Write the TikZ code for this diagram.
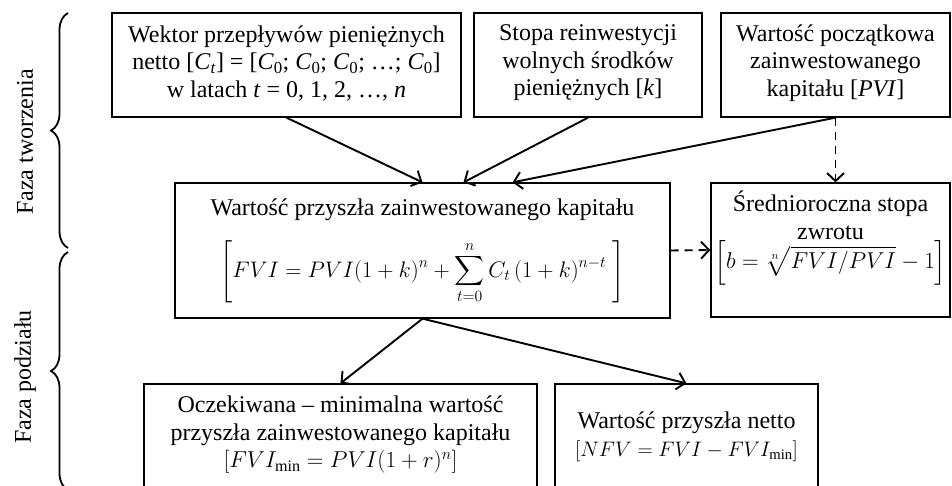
\documentclass[tikz,border=0pt]{standalone}
\usepackage{fix-cm}
\usepackage{amsmath}
\usepackage{fontspec}
\setmainfont{Liberation Serif}
\usetikzlibrary{arrows.meta,decorations.pathreplacing,calc}
\newcommand{\Ci}[1]{\textit{C}\textsubscript{#1}}
\newcommand{\mathsz}[1]{\fontsize{#1}{27.5}\selectfont}
\begin{document}
\begin{tikzpicture}[x=1pt,y=1pt,
  box/.style={draw, line width=1.3pt, inner sep=0pt},
  txt/.style={align=center, font=\fontsize{24}{27.5}\selectfont, inner sep=0pt},
  arr/.style={line width=1.9pt, -{Straight Barb[length=8pt,width=17pt,line width=1.9pt]}},
  darr/.style={arr, dash pattern=on 8pt off 6pt},
  brc/.style={decorate, decoration={brace, amplitude=17pt}, line width=1.8pt}]
\useasboundingbox (0,0) rectangle (952,-485);
% boxes
\node[box, minimum width=349pt, minimum height=104pt] (b1) at (286.5,-65) {};
\node[box, minimum width=228pt, minimum height=104pt] (b2) at (588,-65) {};
\node[box, minimum width=229pt, minimum height=104pt] (b3) at (835.5,-65) {};
\node[box, minimum width=495pt, minimum height=135pt] (c) at (422.5,-250.5) {};
\node[box, minimum width=239pt, minimum height=134pt] (r) at (830.5,-250) {};
\node[box, minimum width=393pt, minimum height=116pt] (bl) at (340.5,-442) {};
\node[box, minimum width=263pt, minimum height=116pt] (br) at (686.5,-442) {};
% texts
\node[txt] (t1) at ($(b1)+(0,2)$) {Wektor przepływów pieniężnych\\netto [\Ci{\textit{t}}] = [\Ci{0}; \Ci{0}; \Ci{0}; …; \Ci{0}]\\w latach \textit{t} = 0, 1, 2, …, \textit{n}};
\node[txt] (t2) at ($(b2)+(0,2)$) {Stopa reinwestycji\\wolnych środków\\pieniężnych [\textit{k}]};
\node[txt] (t3) at ($(b3)+(0,2)$) {Wartość początkowa\\zainwestowanego\\kapitału [\textit{PVI}]};
\node[txt] (tc1) at (422.5,-210) {Wartość przyszła zainwestowanego kapitału};
\node[txt] (tc2) at (422.5,-272) {\mathsz{22.5}$\displaystyle\left[FVI = PVI(1+k)^n + \sum_{t=0}^{n} C_t\,(1+k)^{n-t}\;\right]$};
\node[txt] (tr) at (830.5,-238) {Średnioroczna stopa\\zwrotu\\\mathsz{23}$\left[b = \sqrt[n]{FVI/PVI} - 1\right]$};
\node[txt] (tbl) at (340.5,-435) {Oczekiwana – minimalna wartość\\przyszła zainwestowanego kapitału\\\mathsz{23}$[FVI_{\min} = PVI(1+r)^n]$};
\node[txt] (tbr) at (686.5,-437) {Wartość przyszła netto\\\mathsz{21}$[NFV = FVI - FVI_{\min}]$};
% side labels
\node[txt, rotate=90] (f1) at (25,-142) {Faza tworzenia};
\node[txt, rotate=90] (f2) at (25,-377) {Faza podziału};
\draw[brc] (68,-248) -- (68,-13);
\draw[brc] (68,-490) -- (68,-252);
% arrows
\draw[arr] (b1.south) -- (c.north);
\draw[arr] (b2.south) -- ($(c.north)+(41,0)$);
\draw[arr] (b3.south) -- ($(c.north)+(90,0)$);
\draw[darr] (b3.south) -- (b3.south |- r.north);
\draw[darr] (c.east) -- (r.west);
\draw[arr] (c.south) -- (bl.north);
\draw[arr] (c.south) -- (br.north);
\end{tikzpicture}
\end{document}
